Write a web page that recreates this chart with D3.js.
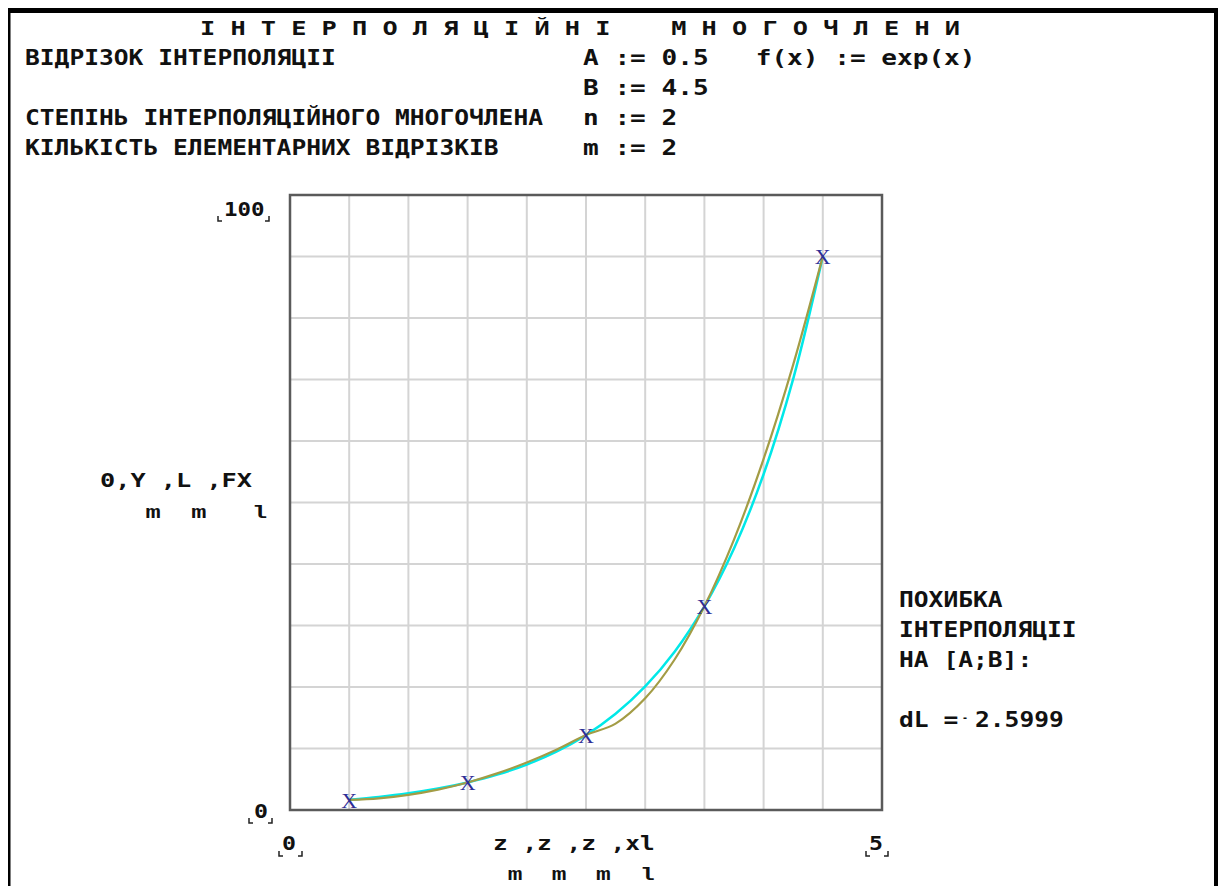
<!DOCTYPE html>
<html>
<head>
<meta charset="utf-8">
<script src="https://cdn.jsdelivr.net/npm/d3@7"></script>
<style>
  body { margin: 0; background: #fff; }
  svg { display: block; }
  text { font-family: "DejaVu Sans Mono", monospace; font-weight: bold; fill: #111; white-space: pre; }
</style>
</head>
<body>
<svg width="1218" height="886"></svg>
<script>
// interpolation nodes (Y_m at z_m)
var nodeX = [0.5, 1.5, 2.5, 3.5, 4.5];
var nodeY = [1.65, 4.48, 12.18, 33.12, 90.02];

// curves
var curveX = [0.5, 0.75, 1, 1.25, 1.5, 1.75, 2, 2.25, 2.5, 2.75, 3, 3.25, 3.5, 3.75, 4, 4.25, 4.5];
var fxValues = [1.65, 2.12, 2.72, 3.49, 4.48, 5.75, 7.39, 9.49, 12.18, 15.64, 20.09, 25.79, 33.12, 42.52, 54.6, 70.11, 90.02];
var lmValues = [1.65, 1.9, 2.46, 3.32, 4.48, 5.95, 7.72, 9.8, 12.18, 14.04, 18.16, 24.51, 33.12, 43.97, 57.08, 72.42, 90.02];

var xDomain = [0, 5];
var yDomain = [0, 100];

var headerLines = ["ВІДРІЗОК ІНТЕРПОЛЯЦІІ", "", "СТЕПІНЬ ІНТЕРПОЛЯЦІЙНОГО МНОГОЧЛЕНА", "КІЛЬКІСТЬ ЕЛЕМЕНТАРНИХ ВІДРІЗКІВ"];
var paramLines = ["A := 0.5   f(x) := exp(x)", "B := 4.5", "n := 2", "m := 2"];
var errorLines = ["ПОХИБКА", "ІНТЕРПОЛЯЦІІ", "НА [A;B]:"];
var errorValue = "2.5999";

var svg = d3.select("svg");

// outer frame
svg.append("rect").attr("x", 8).attr("y", 8).attr("width", 1218).attr("height", 5).attr("fill", "#000");
svg.append("rect").attr("x", 8).attr("y", 8).attr("width", 2.5).attr("height", 886).attr("fill", "#000");
svg.append("rect").attr("x", 1214).attr("y", 8).attr("width", 4).attr("height", 886).attr("fill", "#000");

function txt(x, y, s, cw, size){
    var t = svg.append("text").attr("x", x).attr("y", y).attr("font-size", size || 19)
        .attr("xml:space", "preserve").text(s);
    t.attr("textLength", s.length * cw).attr("lengthAdjust", "spacingAndGlyphs");
    return t;
}

txt(200, 35, "І Н Т Е Р П О Л Я Ц І Й Н І    М Н О Г О Ч Л Е Н И", 15.2, 20);
headerLines.forEach(function(s, i){
    if(s) txt(25, 65 + i * 30, s, 14.8, 22);
});
paramLines.forEach(function(s, i){
    txt(583, 65 + i * 30, s, 15.7, 21);
});

// plot area
var pLeft = 290, pRight = 882, pTop = 195, pBottom = 810;
var x = d3.scaleLinear().domain(xDomain).range([pLeft, pRight]);
var y = d3.scaleLinear().domain(yDomain).range([pBottom, pTop]);

var grid = svg.append("g").attr("stroke", "#d4d4d4").attr("stroke-width", 2);
x.ticks(10).forEach(function(d){
    grid.append("line").attr("x1", x(d)).attr("x2", x(d)).attr("y1", pTop).attr("y2", pBottom);
});
y.ticks(10).forEach(function(d){
    grid.append("line").attr("y1", y(d)).attr("y2", y(d)).attr("x1", pLeft).attr("x2", pRight);
});

svg.append("rect").attr("x", pLeft).attr("y", pTop).attr("width", pRight - pLeft).attr("height", pBottom - pTop)
    .attr("fill", "none").attr("stroke", "#5a5a5a").attr("stroke-width", 2.5);

var line = d3.line().x(function(d){ return x(d[0]); }).y(function(d){ return y(d[1]); }).curve(d3.curveCatmullRom);

svg.append("path").attr("d", line(d3.zip(curveX, fxValues)))
    .attr("fill", "none").attr("stroke", "#00e8e8").attr("stroke-width", 2.5);
svg.append("path").attr("d", line(d3.zip(curveX, lmValues)))
    .attr("fill", "none").attr("stroke", "#a39c45").attr("stroke-width", 2.2);

svg.selectAll(".node").data(d3.zip(nodeX, nodeY)).enter().append("text")
    .attr("class", "node")
    .attr("x", function(d){ return x(d[0]); })
    .attr("y", function(d){ return y(d[1]) + 8; })
    .attr("text-anchor", "middle")
    .attr("font-size", 22)
    .style("font-family", "'Liberation Serif', serif")
    .style("font-weight", "normal")
    .style("fill", "#2e2e96")
    .text("X");

// tick labels with corner marks
function corners(x1, x2, yy){
    svg.append("path").attr("d", "M" + x1 + "," + (yy - 5) + "V" + yy + "H" + (x1 + 4) + "M" + x2 + "," + (yy - 5) + "V" + yy + "H" + (x2 - 4))
        .attr("fill", "none").attr("stroke", "#222").attr("stroke-width", 1.5);
}
txt(224, 216, y.domain()[1].toString(), 13.5, 20);
corners(218, 269, 221);
txt(254, 818, y.domain()[0].toString(), 14, 20);
corners(249, 272, 823);
txt(282, 850, x.domain()[0].toString(), 14, 20);
corners(279, 302, 856);
txt(869, 850, x.domain()[1].toString(), 14, 20);
corners(866, 888, 856);

// axis titles
txt(100, 487, "0,Y ,L ,FX", 15.2, 20);
txt(100, 518, "   m  m   l", 15.2, 19).style("font-family", "'Liberation Mono', monospace");
txt(493, 850, "z ,z ,z ,xl", 14.7, 20);
txt(493, 880, " m  m  m  l", 14.7, 19).style("font-family", "'Liberation Mono', monospace");

// error text on the right
errorLines.forEach(function(s, i){
    txt(899, 607 + i * 30, s, 14.8, 22);
});
txt(899, 727, "dL =", 14.8, 21);
svg.append("text").attr("x", 962).attr("y", 721).attr("font-size", 10).text("-");
txt(975, 727, errorValue, 14.8, 21);
</script>
</body>
</html>
